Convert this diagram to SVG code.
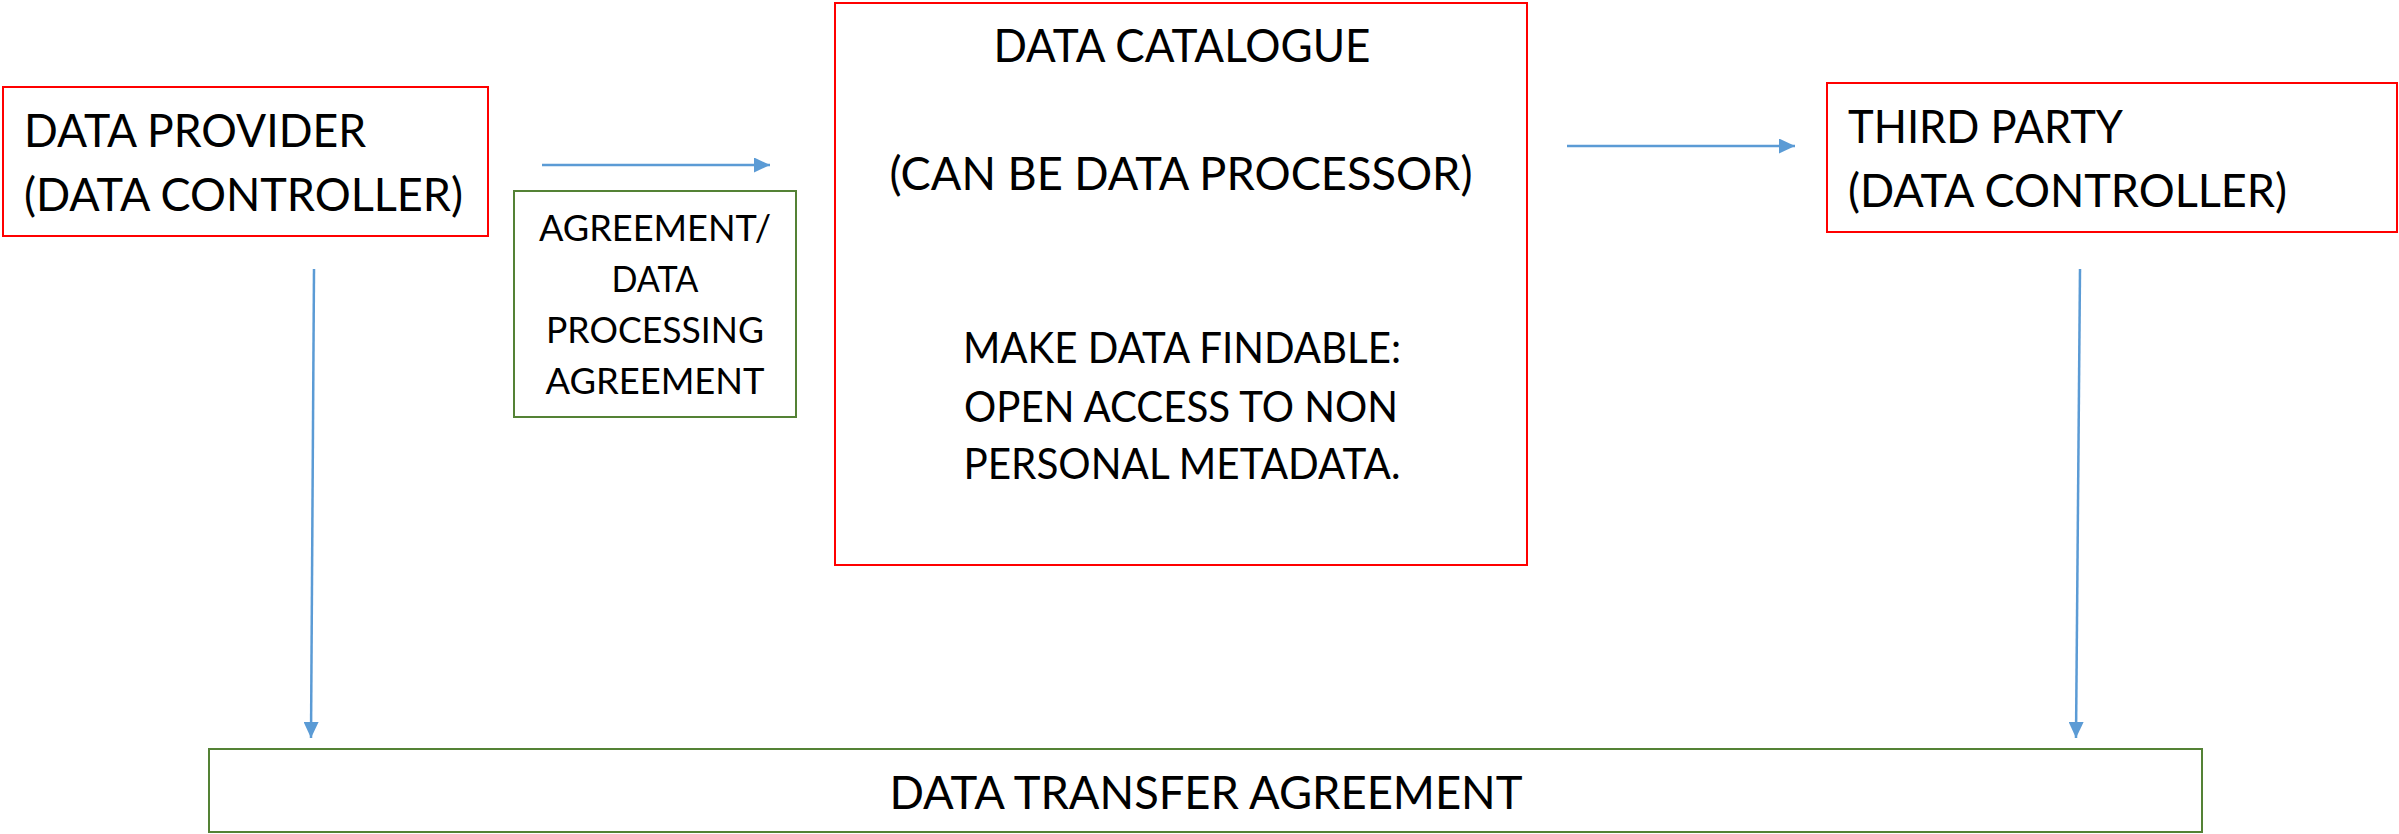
<svg xmlns="http://www.w3.org/2000/svg" width="2399" height="834" viewBox="0 0 2399 834">
<style>
.red{fill:#FFFFFF;stroke:#FF0000;stroke-width:2}
.grn{fill:#FFFFFF;stroke:#548235;stroke-width:2}
.t{font-family:Lato,"Open Sans","Liberation Sans",sans-serif;fill:#000000}
.big{font-size:47px}
.mid{font-size:42px}
.sm{font-size:36px}
.c{text-anchor:middle}
.conn{stroke:#5B9BD5;stroke-width:2.5;fill:none}
</style>
<defs>
<marker id="ah" markerUnits="userSpaceOnUse" markerWidth="16" markerHeight="15" refX="16" refY="7.5" orient="auto">
<path d="M0,0 L16,7.5 L0,15 Z" fill="#5B9BD5"/>
</marker>
</defs>
<rect width="2399" height="834" fill="#FFFFFF"/>
<g id="connectors">
<line class="conn" x1="542" y1="165" x2="770" y2="165" marker-end="url(#ah)"/>
<line class="conn" x1="1567" y1="146" x2="1795" y2="146" marker-end="url(#ah)"/>
<line class="conn" x1="314" y1="269" x2="311" y2="738" marker-end="url(#ah)"/>
<line class="conn" x1="2080" y1="269" x2="2076" y2="738" marker-end="url(#ah)"/>
</g>
<g id="data-provider">
<rect class="red" x="3" y="87" width="485" height="149"/>
<text class="t big" x="24" y="147" textLength="342" lengthAdjust="spacingAndGlyphs">DATA PROVIDER</text>
<text class="t big" x="24" y="211" textLength="439" lengthAdjust="spacingAndGlyphs">(DATA CONTROLLER)</text>
</g>
<g id="agreement">
<rect class="grn" x="514" y="191" width="282" height="226"/>
<text class="t sm c" x="655" y="241" textLength="232" lengthAdjust="spacingAndGlyphs">AGREEMENT/</text>
<text class="t sm c" x="655" y="292" textLength="87" lengthAdjust="spacingAndGlyphs">DATA</text>
<text class="t sm c" x="655" y="343" textLength="218" lengthAdjust="spacingAndGlyphs">PROCESSING</text>
<text class="t sm c" x="655" y="394" textLength="219" lengthAdjust="spacingAndGlyphs">AGREEMENT</text>
</g>
<g id="data-catalogue">
<rect class="red" x="835" y="3" width="692" height="562"/>
<text class="t big c" x="1182" y="62" textLength="377" lengthAdjust="spacingAndGlyphs">DATA CATALOGUE</text>
<text class="t big c" x="1181" y="190" textLength="583" lengthAdjust="spacingAndGlyphs">(CAN BE DATA PROCESSOR)</text>
<text class="t mid c" x="1182" y="363" textLength="438" lengthAdjust="spacingAndGlyphs">MAKE DATA FINDABLE:</text>
<text class="t mid c" x="1181" y="422" textLength="434" lengthAdjust="spacingAndGlyphs">OPEN ACCESS TO NON</text>
<text class="t mid c" x="1182" y="479" textLength="437" lengthAdjust="spacingAndGlyphs">PERSONAL METADATA.</text>
</g>
<g id="third-party">
<rect class="red" x="1827" y="83" width="570" height="149"/>
<text class="t big" x="1848" y="143" textLength="275" lengthAdjust="spacingAndGlyphs">THIRD PARTY</text>
<text class="t big" x="1848" y="207" textLength="439" lengthAdjust="spacingAndGlyphs">(DATA CONTROLLER)</text>
</g>
<g id="data-transfer-agreement">
<rect class="grn" x="209" y="749" width="1993" height="83"/>
<text class="t big c" x="1206" y="809" textLength="633" lengthAdjust="spacingAndGlyphs">DATA TRANSFER AGREEMENT</text>
</g>
</svg>
